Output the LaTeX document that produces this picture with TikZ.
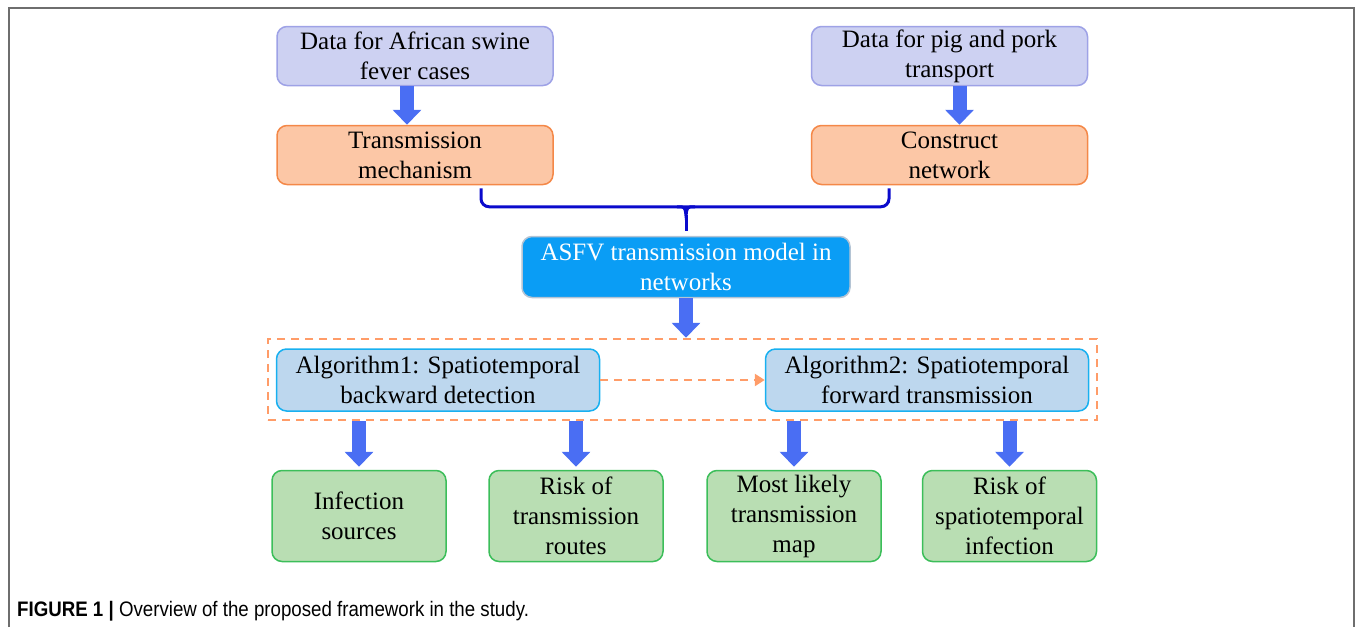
\documentclass[tikz,border=0pt]{standalone}
\usepackage{fontspec}
\setmainfont{Liberation Serif}
\newfontfamily\capfont[FakeStretch=0.89]{Liberation Sans}
\usetikzlibrary{arrows.meta, positioning, calc}

\definecolor{datafill}{HTML}{CDD1F2}
\definecolor{datadraw}{HTML}{9EA2E6}
\definecolor{mechfill}{HTML}{FCC7A6}
\definecolor{mechdraw}{HTML}{F48848}
\definecolor{modelfill}{HTML}{0A9DF5}
\definecolor{modeldraw}{HTML}{B4C4D4}
\definecolor{algofill}{HTML}{BDD7EE}
\definecolor{algodraw}{HTML}{18B0F0}
\definecolor{outfill}{HTML}{B9DEB3}
\definecolor{outdraw}{HTML}{3CBE5A}
\definecolor{arrowblue}{HTML}{4A6EF3}
\definecolor{dashorange}{HTML}{FF9C68}
\definecolor{bracedraw}{HTML}{0A0ACC}
\definecolor{framegray}{HTML}{6E6E6E}

\tikzset{
  box/.style={rounded corners=10pt, line width=1.5pt, align=center, inner sep=0pt,
    font=\fontsize{25}{30}\selectfont},
  databox/.style={box, draw=datadraw, fill=datafill, minimum width=276pt, minimum height=59pt},
  mechbox/.style={box, draw=mechdraw, fill=mechfill, minimum width=276pt, minimum height=59pt},
  modelbox/.style={box, draw=modeldraw, fill=modelfill, text=white, minimum width=328pt, minimum height=61pt},
  algobox/.style={box, draw=algodraw, fill=algofill, minimum width=323pt, minimum height=62pt},
  outbox/.style={box, draw=outdraw, fill=outfill, minimum width=174pt, minimum height=91pt},
  fat/.style={draw=arrowblue, line width=14pt, -{Triangle[width=28pt,length=15pt]}},
  brace/.style={draw=bracedraw, line width=3pt},
  dashline/.style={draw=dashorange, line width=2.5pt, dash pattern=on 8pt off 6pt},
}

\begin{document}
\begin{tikzpicture}[x=1pt, y=-1pt]
  \useasboundingbox (0,0) rectangle (1355,627);
  % frame
  \draw[framegray, line width=1.5pt] (9,627) -- (9,8) -- (1354,8) -- (1354,627);

  % data
  \node[databox] (cases) at (415,56) {Data for African swine\\fever cases};
  \node[databox] (trans) at (949.5,56) {Data for pig and pork\\transport};
  \node[mechbox] (mech) at (415,155) {Transmission\\mechanism};
  \node[mechbox] (net) at (949.5,155) {Construct\\network};
  \draw[fat] (cases.south) ++(-8,0) coordinate (ca) -- (ca |- mech.north);
  \draw[fat] (trans.south) ++(10,0) coordinate (ta) -- (ta |- net.north);

  % model
  \node[modelbox] (model) at (686,267) {ASFV transmission model in\\networks};
  \coordinate (bl) at ($(mech.south)+(66,3)$);
  \coordinate (br) at ($(net.south)+(-60.5,3)$);
  \coordinate (bm) at ($(model.north)+(0,-29)$);
  \draw[brace, rounded corners=8pt] (bl) |- (bm) -| (br);
  \draw[brace] ($(bm)+(-9,0)$) .. controls ($(bm)+(-1,0)$) .. ($(bm)+(0,9)$)
    .. controls ($(bm)+(1,0)$) .. ($(bm)+(9,0)$);
  \draw[brace] ($(bm)+(0,8)$) -- ($(model.north)+(0,-5)$);

  % algorithms
  \node[algobox] (algo1) at (438,380) {Algorithm1: Spatiotemporal\\backward detection};
  \node[algobox] (algo2) at (927,380) {Algorithm2: Spatiotemporal\\forward transmission};
  \node[dashline, minimum width=829pt, minimum height=81pt, inner sep=0pt] (group) at (682.5,379.5) {};
  \draw[fat] (model.south) -- (model.south |- group.north);
  \draw[dashline, -{Triangle[width=12pt,length=10pt]}] (algo1) -- (algo2);

  % outputs
  \node[outbox] (src) at (359,516) {Infection\\sources};
  \node[outbox] (route) at (576,516) {Risk of\\transmission\\routes};
  \node[outbox] (map) at (794,516) {Most likely\\transmission\\map};
  \node[outbox] (risk) at (1009.5,516) {Risk of\\spatiotemporal\\infection};
  \foreach \n in {src, route, map, risk}
    \draw[fat, shorten >=3pt] (group.south -| \n) -- (\n.north);

  % caption
  \node[anchor=west, inner sep=0pt, font=\capfont\fontsize{21}{23}\selectfont] (caption) at (17,611)
    {\textbf{FIGURE 1 |} Overview of the proposed framework in the study.};
\end{tikzpicture}
\end{document}
